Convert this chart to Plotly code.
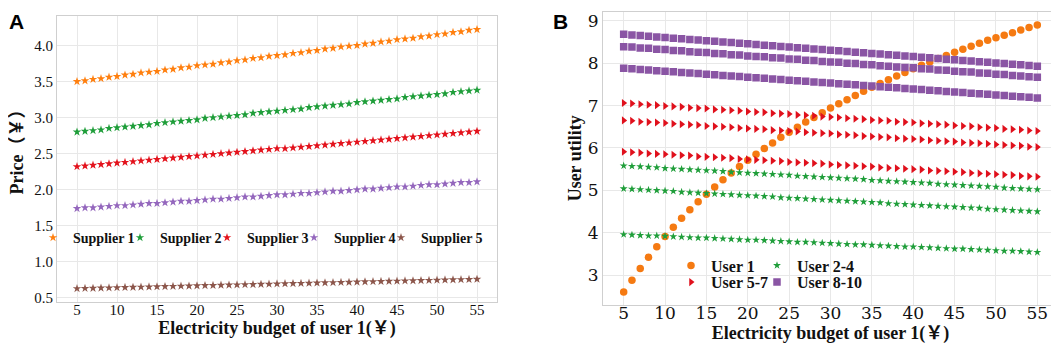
import plotly.graph_objects as go

# ---------------- data ----------------
budget = list(range(5, 56))  # electricity budget of user 1 (x values)

supplier1 = [3.50, 3.51, 3.53, 3.54, 3.56, 3.57, 3.59, 3.60, 3.62, 3.63, 3.64, 3.66, 3.67, 3.69, 3.70, 3.72, 3.73,
             3.74, 3.76, 3.77, 3.79, 3.80, 3.82, 3.83, 3.85, 3.86, 3.87, 3.89, 3.90, 3.92, 3.93, 3.95, 3.96, 3.98,
             3.99, 4.00, 4.02, 4.03, 4.05, 4.06, 4.08, 4.09, 4.10, 4.12, 4.13, 4.15, 4.16, 4.18, 4.19, 4.21, 4.22]
supplier2 = [2.80, 2.81, 2.82, 2.83, 2.85, 2.86, 2.87, 2.88, 2.89, 2.90, 2.92, 2.93, 2.94, 2.95, 2.96, 2.97, 2.99,
             3.00, 3.01, 3.02, 3.03, 3.04, 3.06, 3.07, 3.08, 3.09, 3.10, 3.11, 3.12, 3.14, 3.15, 3.16, 3.17, 3.18,
             3.19, 3.21, 3.22, 3.23, 3.24, 3.25, 3.26, 3.28, 3.29, 3.30, 3.31, 3.32, 3.33, 3.35, 3.36, 3.37, 3.38]
supplier3 = [2.32, 2.33, 2.34, 2.35, 2.36, 2.37, 2.38, 2.39, 2.40, 2.41, 2.42, 2.43, 2.44, 2.45, 2.46, 2.47, 2.48,
             2.49, 2.50, 2.51, 2.52, 2.53, 2.54, 2.55, 2.56, 2.57, 2.57, 2.58, 2.59, 2.60, 2.61, 2.62, 2.63, 2.64,
             2.65, 2.66, 2.67, 2.68, 2.69, 2.70, 2.71, 2.72, 2.73, 2.74, 2.75, 2.76, 2.77, 2.78, 2.79, 2.80, 2.81]
supplier4 = [1.74, 1.75, 1.75, 1.76, 1.77, 1.78, 1.78, 1.79, 1.80, 1.81, 1.81, 1.82, 1.83, 1.84, 1.84, 1.85, 1.86,
             1.87, 1.87, 1.88, 1.89, 1.90, 1.90, 1.91, 1.92, 1.93, 1.93, 1.94, 1.95, 1.95, 1.96, 1.97, 1.98, 1.98,
             1.99, 2.00, 2.01, 2.01, 2.02, 2.03, 2.04, 2.04, 2.05, 2.06, 2.07, 2.07, 2.08, 2.09, 2.10, 2.10, 2.11]
supplier5 = [0.630, 0.633, 0.635, 0.638, 0.640, 0.643, 0.646, 0.648, 0.651, 0.653, 0.656, 0.659, 0.661, 0.664,
             0.666, 0.669, 0.672, 0.674, 0.677, 0.679, 0.682, 0.685, 0.687, 0.690, 0.692, 0.695, 0.698, 0.700,
             0.703, 0.705, 0.708, 0.711, 0.713, 0.716, 0.718, 0.721, 0.724, 0.726, 0.729, 0.731, 0.734, 0.737,
             0.739, 0.742, 0.744, 0.747, 0.750, 0.752, 0.755, 0.757, 0.760]

user1 = [2.60, 2.88, 3.16, 3.42, 3.67, 3.91, 4.13, 4.34, 4.54, 4.73, 4.91, 5.08, 5.25, 5.41, 5.56, 5.71, 5.85,
         5.99, 6.12, 6.25, 6.37, 6.49, 6.61, 6.72, 6.83, 6.94, 7.04, 7.14, 7.24, 7.34, 7.43, 7.52, 7.61, 7.70,
         7.78, 7.87, 7.95, 8.03, 8.11, 8.18, 8.26, 8.33, 8.40, 8.47, 8.54, 8.60, 8.66, 8.72, 8.78, 8.84, 8.90]
user2 = [5.58, 5.57, 5.56, 5.55, 5.54, 5.52, 5.51, 5.50, 5.49, 5.48, 5.47, 5.46, 5.45, 5.43, 5.42, 5.41, 5.40,
         5.39, 5.38, 5.37, 5.36, 5.34, 5.33, 5.32, 5.31, 5.30, 5.29, 5.28, 5.27, 5.26, 5.24, 5.23, 5.22, 5.21,
         5.20, 5.19, 5.18, 5.17, 5.15, 5.14, 5.13, 5.12, 5.11, 5.10, 5.09, 5.08, 5.06, 5.05, 5.04, 5.03, 5.02]
user3 = [5.04, 5.03, 5.02, 5.01, 5.00, 4.99, 4.98, 4.96, 4.95, 4.94, 4.93, 4.92, 4.91, 4.90, 4.89, 4.88, 4.87,
         4.86, 4.85, 4.83, 4.82, 4.81, 4.80, 4.79, 4.78, 4.77, 4.76, 4.75, 4.74, 4.73, 4.72, 4.71, 4.69, 4.68,
         4.67, 4.66, 4.65, 4.64, 4.63, 4.62, 4.61, 4.60, 4.59, 4.58, 4.56, 4.55, 4.54, 4.53, 4.52, 4.51, 4.50]
user4 = [3.96, 3.95, 3.94, 3.93, 3.93, 3.92, 3.91, 3.90, 3.89, 3.88, 3.88, 3.87, 3.86, 3.85, 3.84, 3.83, 3.83,
         3.82, 3.81, 3.80, 3.79, 3.78, 3.78, 3.77, 3.76, 3.75, 3.74, 3.73, 3.72, 3.72, 3.71, 3.70, 3.69, 3.68,
         3.67, 3.67, 3.66, 3.65, 3.64, 3.63, 3.62, 3.62, 3.61, 3.60, 3.59, 3.58, 3.57, 3.57, 3.56, 3.55, 3.54]
user5 = [7.06, 7.05, 7.03, 7.02, 7.01, 6.99, 6.98, 6.97, 6.95, 6.94, 6.93, 6.91, 6.90, 6.89, 6.88, 6.86, 6.85,
         6.84, 6.82, 6.81, 6.80, 6.78, 6.77, 6.76, 6.74, 6.73, 6.72, 6.70, 6.69, 6.68, 6.66, 6.65, 6.64, 6.62,
         6.61, 6.60, 6.58, 6.57, 6.56, 6.55, 6.53, 6.52, 6.51, 6.49, 6.48, 6.47, 6.45, 6.44, 6.43, 6.41, 6.40]
user6 = [6.65, 6.64, 6.62, 6.61, 6.60, 6.59, 6.57, 6.56, 6.55, 6.54, 6.52, 6.51, 6.50, 6.49, 6.47, 6.46, 6.45,
         6.44, 6.42, 6.41, 6.40, 6.39, 6.37, 6.36, 6.35, 6.34, 6.32, 6.31, 6.30, 6.28, 6.27, 6.26, 6.25, 6.23,
         6.22, 6.21, 6.20, 6.18, 6.17, 6.16, 6.15, 6.13, 6.12, 6.11, 6.10, 6.08, 6.07, 6.06, 6.05, 6.03, 6.02]
user7 = [5.91, 5.90, 5.89, 5.87, 5.86, 5.85, 5.84, 5.83, 5.82, 5.80, 5.79, 5.78, 5.77, 5.76, 5.74, 5.73, 5.72,
         5.71, 5.70, 5.69, 5.67, 5.66, 5.65, 5.64, 5.63, 5.61, 5.60, 5.59, 5.58, 5.57, 5.56, 5.54, 5.53, 5.52,
         5.51, 5.50, 5.49, 5.47, 5.46, 5.45, 5.44, 5.43, 5.41, 5.40, 5.39, 5.38, 5.37, 5.36, 5.34, 5.33, 5.32]
user8 = [8.680, 8.665, 8.650, 8.635, 8.620, 8.605, 8.590, 8.575, 8.560, 8.545, 8.530, 8.515, 8.500, 8.485,
         8.470, 8.455, 8.440, 8.425, 8.410, 8.395, 8.380, 8.365, 8.350, 8.335, 8.320, 8.305, 8.290, 8.275,
         8.260, 8.245, 8.230, 8.215, 8.200, 8.185, 8.170, 8.155, 8.140, 8.125, 8.110, 8.095, 8.080, 8.065,
         8.050, 8.035, 8.020, 8.005, 7.990, 7.975, 7.960, 7.945, 7.930]
user9 = [8.39, 8.38, 8.36, 8.35, 8.33, 8.32, 8.30, 8.29, 8.27, 8.26, 8.25, 8.23, 8.22, 8.20, 8.19, 8.17, 8.16,
         8.15, 8.13, 8.12, 8.10, 8.09, 8.07, 8.06, 8.04, 8.03, 8.02, 8.00, 7.99, 7.97, 7.96, 7.94, 7.93, 7.91,
         7.90, 7.89, 7.87, 7.86, 7.84, 7.83, 7.81, 7.80, 7.79, 7.77, 7.76, 7.74, 7.73, 7.71, 7.70, 7.68, 7.67]
user10 = [7.880, 7.866, 7.852, 7.838, 7.824, 7.810, 7.796, 7.782, 7.768, 7.754, 7.740, 7.726, 7.712, 7.698,
          7.684, 7.670, 7.656, 7.642, 7.628, 7.614, 7.600, 7.586, 7.572, 7.558, 7.544, 7.530, 7.516, 7.502,
          7.488, 7.474, 7.460, 7.446, 7.432, 7.418, 7.404, 7.390, 7.376, 7.362, 7.348, 7.334, 7.320, 7.306,
          7.292, 7.278, 7.264, 7.250, 7.236, 7.222, 7.208, 7.194, 7.180]

supplier_names = ["Supplier 1", "Supplier 2", "Supplier 3", "Supplier 4", "Supplier 5"]
supplier_series = [supplier1, supplier2, supplier3, supplier4, supplier5]
supplier_colors = ["#ff7f0e", "#1f9e3a", "#e3121c", "#9467bd", "#8c564b"]

user_groups = ["User 1", "User 2-4", "User 5-7", "User 8-10"]
user_series = [[user1], [user2, user3, user4], [user5, user6, user7], [user8, user9, user10]]
user_colors = ["#f57a12", "#1f9e3a", "#e0101c", "#8a55a4"]
user_symbols = ["circle", "star", "triangle-right", "square"]
user_sizes = [7.5, 6, 7, 7.5]

x_ticks = [5, 10, 15, 20, 25, 30, 35, 40, 45, 50, 55]
price_ticks = [0.5, 1.0, 1.5, 2.0, 2.5, 3.0, 3.5, 4.0]
utility_ticks = [3, 4, 5, 6, 7, 8, 9]

# ---------------- figure ----------------
W, H = 1059, 347
fig = go.Figure()

# one small legend per entry so each entry sits where the reference puts it
sup_leg_x = [25, 112, 199, 286, 373]
sup_leg_y = 233
user_leg_x = [663, 749, 663, 749]
user_leg_y = [261, 261, 278, 278]

for k, (name, ys, col) in enumerate(zip(supplier_names, supplier_series, supplier_colors)):
    fig.add_trace(go.Scatter(
        x=budget, y=ys, mode="markers", name=name, showlegend=True,
        legend="legend" if k == 0 else f"legend{k + 1}",
        marker=dict(symbol="star", size=6.5, color=col, line=dict(width=0)),
        xaxis="x", yaxis="y"))

for g, (gname, group, col, sym, sz) in enumerate(zip(user_groups, user_series, user_colors,
                                                     user_symbols, user_sizes)):
    for i, ys in enumerate(group):
        fig.add_trace(go.Scatter(
            x=budget, y=ys, mode="markers", name=gname, legend=f"legend{g + 6}",
            legendgroup=gname, showlegend=(i == 0),
            marker=dict(symbol=sym, size=sz, color=col, line=dict(width=0)),
            xaxis="x2", yaxis="y2"))

serif = "Liberation Serif"
cjk_serif = "Liberation Serif, Noto Sans CJK SC"
tickfont_l = dict(family=serif, size=15, color="#111")
tickfont_r = dict(family="DejaVu Serif", size=17, color="#111")
titlefont = dict(family=cjk_serif, size=18, color="#111", weight="bold")
axis_common = dict(showgrid=True, gridcolor="#e8e8e8", gridwidth=1, zeroline=False,
                   showline=True, linecolor="#cfcfcf", linewidth=1, mirror=True, ticks="", ticklen=0)

legend_font_l = dict(family=serif, size=14, color="#111", weight="bold")
legend_font_r = dict(family=serif, size=16, color="#111", weight="bold")
legends = {}
for k, lx in enumerate(sup_leg_x):
    key = "legend" if k == 0 else f"legend{k + 1}"
    legends[key] = dict(orientation="h", x=lx / W, xanchor="left", y=(H - sup_leg_y) / H,
                        yanchor="middle", itemwidth=30, bgcolor="rgba(0,0,0,0)", font=legend_font_l)
for g, (lx, ly) in enumerate(zip(user_leg_x, user_leg_y)):
    legends[f"legend{g + 6}"] = dict(orientation="h", x=lx / W, xanchor="left", y=(H - ly) / H,
                                     yanchor="middle", itemwidth=30, bgcolor="rgba(0,0,0,0)",
                                     font=legend_font_r)

fig.update_layout(
    width=W, height=H,
    margin=dict(l=0, r=0, t=0, b=0),
    showlegend=True,
    paper_bgcolor="white", plot_bgcolor="white",
    xaxis=dict(domain=[49 / W, 489 / W], range=[2.5, 57.5], tickvals=x_ticks,
               tickfont=tickfont_l, anchor="y", ticklabelstandoff=-6,
               title=dict(text="Electricity budget of user 1(￥)", font=titlefont, standoff=2),
               **axis_common),
    yaxis=dict(domain=[(H - 297.7) / H, (H - 7.3) / H], range=[0.45, 4.405], tickvals=price_ticks,
               tickformat=".1f", tickfont=tickfont_l, anchor="x",
               **axis_common),
    xaxis2=dict(domain=[595 / W, 1050 / W], range=[2.5, 57.5], tickvals=x_ticks,
                tickfont=tickfont_r, anchor="y2", ticklabelstandoff=-8,
                title=dict(text="Electricity budget of user 1(￥)", font=titlefont, standoff=0),
                **axis_common),
    yaxis2=dict(domain=[(H - 301.7) / H, (H - 2.7) / H], range=[2.285, 9.215], tickvals=utility_ticks,
                tickfont=tickfont_r, anchor="x2",
                **axis_common),
    annotations=[
        dict(text="<b>A</b>", x=0, y=1, xref="paper", yref="paper", xanchor="left",
             yanchor="top", showarrow=False, borderpad=0,
             font=dict(family="Liberation Sans", size=21, color="#000")),
        dict(text="<b>B</b>", x=544 / W, y=1, xref="paper", yref="paper", xanchor="left",
             yanchor="top", showarrow=False, borderpad=0,
             font=dict(family="Liberation Sans", size=21, color="#000")),
        dict(text="Price（￥）", x=9 / W, y=(H - 141) / H, xref="paper", yref="paper", textangle=-90,
             xanchor="center", yanchor="middle", showarrow=False, font=titlefont),
        dict(text="User utility", x=567 / W, y=(H - 152) / H, xref="paper", yref="paper", textangle=-90,
             xanchor="center", yanchor="middle", showarrow=False, font=titlefont),
    ],
    **legends,
)

fig.write_html("out.html")
